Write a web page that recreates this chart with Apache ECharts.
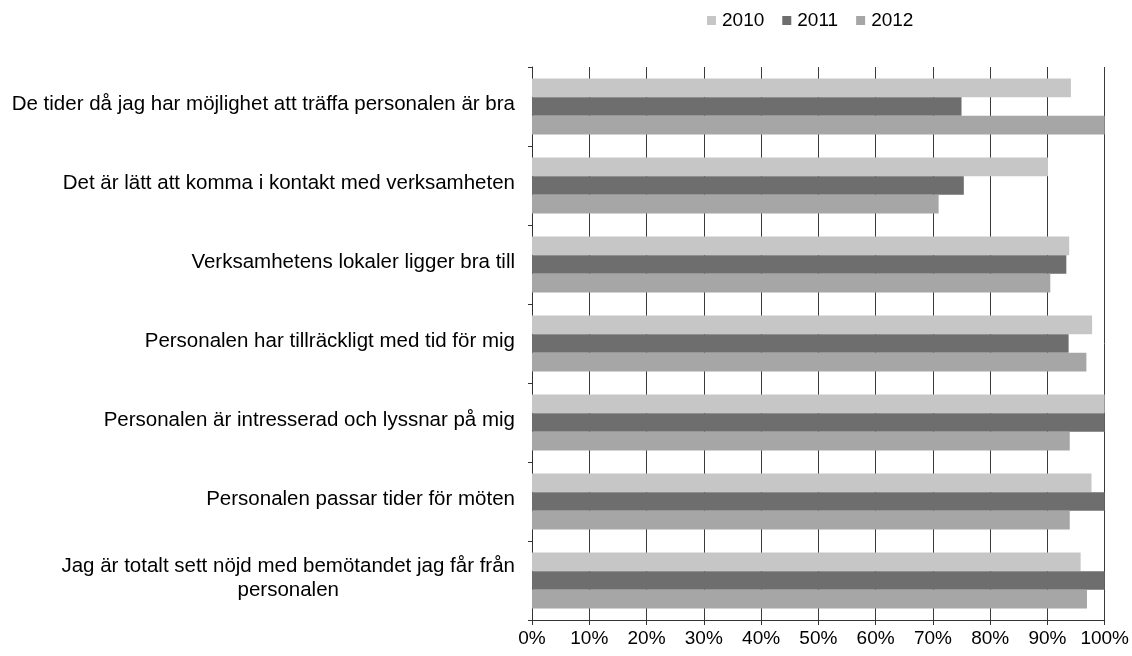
<!DOCTYPE html>
<html>
<head>
<meta charset="utf-8">
<script src="https://cdn.jsdelivr.net/npm/echarts@6/dist/echarts.min.js"></script>
<style>
html,body{margin:0;padding:0;background:#fff;}
#c{width:1132px;height:656px;}
</style>
</head>
<body>
<div id="c"></div>
<script>
const categories = [
  "De tider då jag har möjlighet att träffa personalen är bra",
  "Det är lätt att komma i kontakt med verksamheten",
  "Verksamhetens lokaler ligger bra till",
  "Personalen har tillräckligt med tid för mig",
  "Personalen är intresserad och lyssnar på mig",
  "Personalen passar tider för möten",
  "Jag är totalt sett nöjd med bemötandet jag får från\npersonalen"
];
const seriesNames = ["2010", "2011", "2012"];
const values2010 = [94.1, 90.1, 93.8, 97.8, 100, 97.7, 95.8];
const values2011 = [75.0, 75.4, 93.3, 93.7, 100, 100, 100];
const values2012 = [100, 71.0, 90.5, 96.8, 93.9, 93.9, 96.9];
const xTicks = [0, 10, 20, 30, 40, 50, 60, 70, 80, 90, 100];

const colors = ["#c6c6c6", "#6e6e6e", "#a6a6a6"];
const font = "Liberation Sans, Arial, sans-serif";

const chart = echarts.init(document.getElementById('c'), null, {renderer: 'canvas'});
chart.setOption({
  animation: false,
  backgroundColor: '#fff',
  color: colors,
  legend: {
    data: seriesNames,
    left: 707,
    top: 11,
    padding: 0,
    itemWidth: 9,
    itemHeight: 9,
    itemGap: 18,
    icon: 'rect',
    textStyle: {fontFamily: font, fontSize: 19, color: '#000', padding: [0, 0, 0, 1]}
  },
  grid: {left: 532, right: 27, top: 67, bottom: 36, containLabel: false},
  xAxis: {
    type: 'value',
    min: xTicks[0],
    max: xTicks[xTicks.length - 1],
    interval: 10,
    axisLine: {show: true, lineStyle: {color: '#333', width: 1}},
    axisTick: {show: true, length: 5, lineStyle: {color: '#333'}},
    splitLine: {show: true, lineStyle: {color: '#3a3a3a', width: 1}},
    axisLabel: {
      formatter: v => v + '%',
      fontFamily: font, fontSize: 19, color: '#000', margin: 9
    }
  },
  yAxis: {
    type: 'category',
    inverse: true,
    data: categories,
    axisLine: {show: true, lineStyle: {color: '#333', width: 1}},
    axisTick: {show: true, length: 4, lineStyle: {color: '#333'}},
    axisLabel: {
      margin: 17,
      fontFamily: font, fontSize: 20.5, color: '#000',
      lineHeight: 24,
      padding: [0, 0, 5, 0],
      formatter: v => v.split('\n').map(s => '{a|' + s + '}').join('\n'),
      rich: {a: {align: 'center', fontFamily: font, fontSize: 20.5, color: '#000', lineHeight: 24}}
    }
  },
  series: [
    {name: seriesNames[0], type: 'bar', data: values2010, barGap: '0%', barCategoryGap: '29%'},
    {name: seriesNames[1], type: 'bar', data: values2011, barGap: '0%', barCategoryGap: '29%'},
    {name: seriesNames[2], type: 'bar', data: values2012, barGap: '0%', barCategoryGap: '29%'}
  ]
});
</script>
</body>
</html>
